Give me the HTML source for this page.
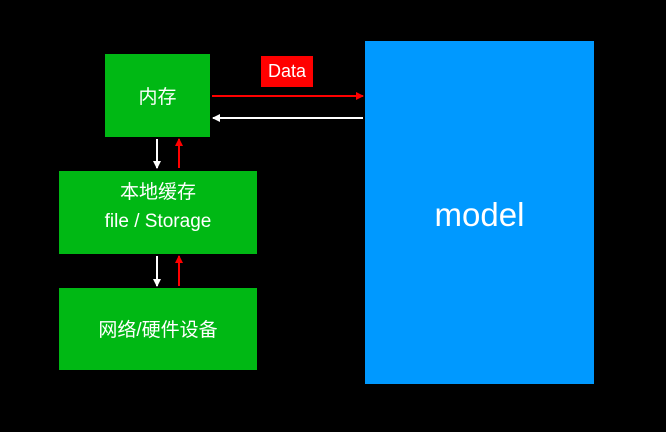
<!DOCTYPE html>
<html><head><meta charset="utf-8"><style>
body{margin:0;background:#000;width:666px;height:432px;overflow:hidden;position:relative;font-family:"Liberation Sans","Noto Sans CJK SC",sans-serif;color:#fff}
.b{position:absolute;background:#00b814;display:flex;align-items:center;justify-content:center;text-align:center;font-size:19px;line-height:29px}
</style></head><body>
<div class="b" style="left:105px;top:54px;width:105px;height:83px;padding-top:4px;box-sizing:border-box">内存</div>
<div class="b" style="left:59px;top:171px;width:198px;height:83px;padding-bottom:12px;box-sizing:border-box">本地缓存<br>file / Storage</div>
<div class="b" style="left:59px;top:288px;width:198px;height:82px;padding-top:3px;box-sizing:border-box">网络/硬件设备</div>
<div class="b" style="left:365px;top:41px;width:229px;height:343px;background:#0099ff;font-size:33px;padding-top:4px;box-sizing:border-box">model</div>
<div style="position:absolute;left:261px;top:56px;width:52px;height:31px;background:#ff0000;font-size:18px;line-height:31px;text-align:center">Data</div>
<svg width="666" height="432" style="position:absolute;left:0;top:0">
<defs>
<marker id="r" markerWidth="8" markerHeight="8" refX="7" refY="4" orient="auto" markerUnits="userSpaceOnUse"><path d="M0,0L8,4L0,8z" fill="#f00"/></marker>
<marker id="w" markerWidth="8" markerHeight="8" refX="7" refY="4" orient="auto" markerUnits="userSpaceOnUse"><path d="M0,0L8,4L0,8z" fill="#fff"/></marker>
</defs>
<g stroke-width="2">
<line x1="212" y1="96" x2="363" y2="96" stroke="#f00" marker-end="url(#r)"/>
<line x1="363" y1="118" x2="213" y2="118" stroke="#fff" marker-end="url(#w)"/>
<line x1="157" y1="139" x2="157" y2="168" stroke="#fff" marker-end="url(#w)"/>
<line x1="179" y1="168" x2="179" y2="139" stroke="#f00" marker-end="url(#r)"/>
<line x1="157" y1="256" x2="157" y2="286" stroke="#fff" marker-end="url(#w)"/>
<line x1="179" y1="286" x2="179" y2="256" stroke="#f00" marker-end="url(#r)"/>
</g></svg>
</body></html>
